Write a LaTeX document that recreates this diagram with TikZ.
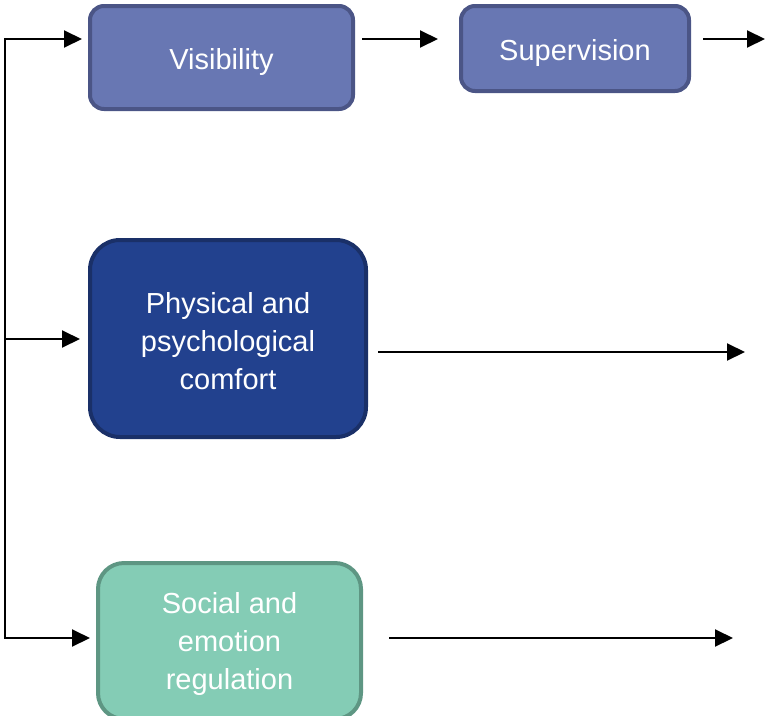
\documentclass[tikz,border=0pt]{standalone}
\usepackage{fontspec}
\setmainfont{Liberation Sans}
\usetikzlibrary{arrows.meta}
\definecolor{visfill}{HTML}{6877B3}
\definecolor{visdraw}{HTML}{4B5586}
\definecolor{phyfill}{HTML}{22418E}
\definecolor{phydraw}{HTML}{1A3068}
\definecolor{socfill}{HTML}{84CCB5}
\definecolor{socdraw}{HTML}{5E9683}
\newcommand{\lift}[1]{\rule{0pt}{#1}}
\tikzset{
  box/.style={rectangle, rounded corners=#1, line width=4pt, text=white, align=center,
    font=\fontsize{29}{38}\selectfont, inner sep=0pt},
  conn/.style={line width=2pt, -{Triangle[length=18pt,width=17pt]}},
  wire/.style={line width=2pt}
}
\begin{document}
\begin{tikzpicture}[x=1pt,y=-1pt]
\useasboundingbox (0,0) rectangle (765,715);
\node[box=14pt, fill=visfill, draw=visdraw, minimum width=263pt, minimum height=103pt] (vis) at (221.5,57.5) {\lift{30pt}Visibility};
\node[box=14pt, fill=visfill, draw=visdraw, minimum width=228pt, minimum height=85pt] (sup) at (575,48.5) {\lift{31pt}Supervision};
\node[box=30pt, fill=phyfill, draw=phydraw, minimum width=276pt, minimum height=197pt] (phy) at (228,338.5) {\lift{27pt}Physical and\\psychological\\comfort};
\node[box=26pt, fill=socfill, draw=socdraw, minimum width=263pt, minimum height=156pt] (soc) at (229.5,641) {\lift{27pt}Social and\\emotion\\regulation};
% left bus
\coordinate (btop) at (5,39);
\coordinate (bmid) at (5,339);
\coordinate (bbot) at (5,638);
\draw[wire] ([yshift=1pt]btop) -- ([yshift=-1pt]bbot);
\draw[conn] (btop) -- ([xshift=-6pt]vis.west |- btop);
\draw[conn] (bmid) -- ([xshift=-8pt]phy.west |- bmid);
\draw[conn] (bbot) -- ([xshift=-6pt]soc.west |- bbot);
% horizontal flows
\coordinate (vs) at (355,39);
\draw[conn] ([xshift=7pt]vs) -- ([xshift=-21pt]sup.west |- vs);
\coordinate (supout) at (765,39);
\draw[conn] ([xshift=12pt]sup.east |- supout) -- (supout);
\coordinate (phyout) at (745,352);
\draw[conn] ([xshift=10pt]phy.east |- phyout) -- (phyout);
\coordinate (socout) at (733,638);
\draw[conn] ([xshift=26pt]soc.east |- socout) -- (socout);
\end{tikzpicture}
\end{document}
